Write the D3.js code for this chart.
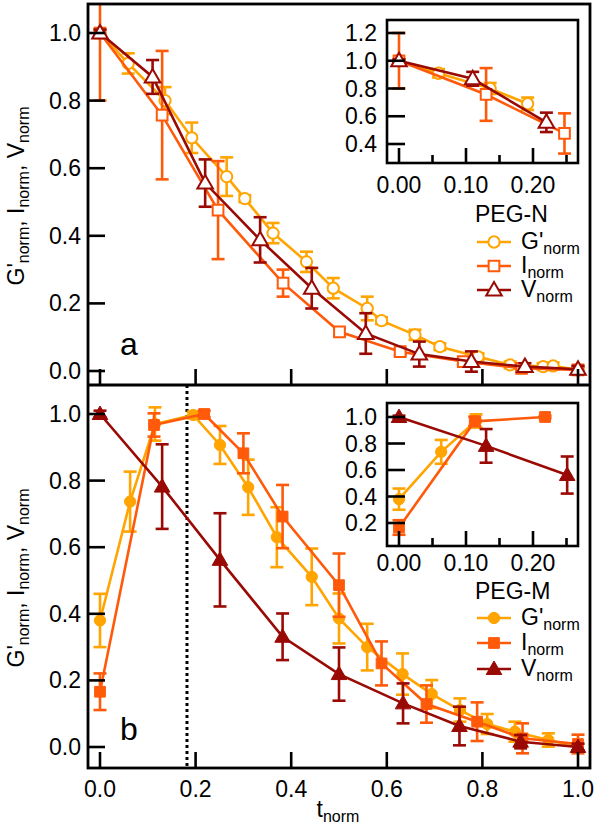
<!DOCTYPE html>
<html><head><meta charset="utf-8">
<script src="https://cdn.jsdelivr.net/npm/d3@7"></script>
<style>html,body{margin:0;padding:0;background:#fff}svg{display:block}text{font-family:"Liberation Sans",Arial,Helvetica,sans-serif;fill:#000}</style>
</head><body><svg id="c" width="596" height="828"></svg>
<script>
// ---------- DATA ----------
const xTicks = [0, 0.2, 0.4, 0.6, 0.8, 1.0];
const yTicks = [0, 0.2, 0.4, 0.6, 0.8, 1.0];
const insetXTicksMajor = [0, 0.10, 0.20];
const insetXTicksMinor = [0.05, 0.15, 0.25];
const insetTopYTicks = [0.4, 0.6, 0.8, 1.0, 1.2];
const insetBotYTicks = [0.2, 0.4, 0.6, 0.8, 1.0];
const seriesNames = ["G'", "I", "V"];
const colors = ["#FFA400", "#FF5A0A", "#9A0A05"];

// panel a (PEG-N)
const aG_t = [0, 0.059, 0.136, 0.192, 0.265, 0.303, 0.362, 0.432, 0.488, 0.559, 0.589, 0.659, 0.711, 0.791, 0.858, 0.927, 0.948, 1.0];
const aG_v = [1.0, 0.91, 0.80, 0.69, 0.575, 0.51, 0.408, 0.323, 0.245, 0.185, 0.149, 0.107, 0.072, 0.042, 0.018, 0.013, 0.015, 0.003];
const aG_e = [0.01, 0.03, 0.04, 0.045, 0.057, 0.01, 0.03, 0.03, 0.03, 0.035, 0.01, 0.015, 0.01, 0.01, 0.01, 0.01, 0.01, 0.01];
const aI_t = [0, 0.13, 0.247, 0.383, 0.501, 0.628, 0.76, 0.882, 1.0];
const aI_v = [1.0, 0.757, 0.476, 0.26, 0.116, 0.057, 0.028, 0.008, 0.003];
const aI_e = [0.2, 0.19, 0.145, 0.04, 0.01, 0.01, 0.01, 0.01, 0.01];
const aV_t = [0, 0.11, 0.22, 0.335, 0.443, 0.556, 0.668, 0.777, 0.889, 1.0];
const aV_v = [1.0, 0.87, 0.556, 0.388, 0.245, 0.111, 0.05, 0.028, 0.013, 0.005];
const aV_e = [0.01, 0.05, 0.07, 0.067, 0.06, 0.06, 0.037, 0.03, 0.01, 0.01];
const aInsetCount = [4, 3, 3];

// panel b (PEG-M)
const bG_t = [0, 0.063, 0.115, 0.195, 0.251, 0.31, 0.37, 0.443, 0.50, 0.559, 0.633, 0.694, 0.753, 0.81, 0.868, 0.938, 1.0];
const bG_v = [0.38, 0.737, 0.97, 0.997, 0.907, 0.78, 0.63, 0.511, 0.386, 0.30, 0.219, 0.159, 0.111, 0.069, 0.046, 0.021, 0.0];
const bG_e = [0.08, 0.09, 0.05, 0.01, 0.057, 0.083, 0.09, 0.085, 0.075, 0.07, 0.062, 0.042, 0.035, 0.03, 0.03, 0.02, 0.01];
const bI_t = [0, 0.113, 0.218, 0.30, 0.382, 0.50, 0.589, 0.683, 0.789, 0.884, 1.0];
const bI_v = [0.166, 0.967, 1.0, 0.882, 0.692, 0.486, 0.251, 0.129, 0.076, 0.026, 0.009];
const bI_e = [0.055, 0.035, 0.01, 0.06, 0.095, 0.095, 0.066, 0.056, 0.058, 0.045, 0.028];
const bV_t = [0, 0.13, 0.251, 0.382, 0.50, 0.634, 0.752, 0.88, 1.0];
const bV_v = [1.0, 0.782, 0.562, 0.331, 0.219, 0.131, 0.063, 0.016, 0.0];
const bV_e = [0.01, 0.127, 0.14, 0.07, 0.08, 0.06, 0.058, 0.02, 0.01];
const bInsetCount = [3, 3, 3];
const dividerT = 0.182;

// ---------- DRAW ----------
const svg = d3.select("#c");
const FONT = 23, SUB = 16, SUBDY = 5;
const x = d3.scaleLinear([0, 1], [100, 578]);
const xIn = d3.scaleLinear([0, 0.2], [399, 533]);
const frameL = 88, frameR = 590, top0 = 4, mid = 385, bot = 768;

const toPts = (t, v, e) => t.map((d, i) => ({t: d, v: v[i], e: e[i]}));
const panelA = [toPts(aG_t, aG_v, aG_e), toPts(aI_t, aI_v, aI_e), toPts(aV_t, aV_v, aV_e)];
const panelB = [toPts(bG_t, bG_v, bG_e), toPts(bI_t, bI_v, bI_e), toPts(bV_t, bV_v, bV_e)];
const symTypes = [d3.symbolCircle, d3.symbolSquare, d3.symbolTriangle];
const symSizes = [100, 115, 105];

let clipId = 0;
function clip(x0, y0, w, h) {
  const id = "cl" + (clipId++);
  svg.append("clipPath").attr("id", id).append("rect").attr("x", x0).attr("y", y0).attr("width", w).attr("height", h);
  return "url(#" + id + ")";
}

function drawSeries(g, data, xs, ys, filled) {
  data.forEach((pts, k) => {
    const c = colors[k];
    const sg = g.append("g");
    sg.append("path").datum(pts).attr("fill", "none").attr("stroke", c).attr("stroke-width", 2.6)
      .attr("d", d3.line().x(d => xs(d.t)).y(d => ys(d.v)));
    const eb = sg.selectAll(".eb").data(pts).enter().append("g");
    eb.append("line").attr("x1", d => xs(d.t)).attr("x2", d => xs(d.t))
      .attr("y1", d => ys(d.v + d.e)).attr("y2", d => ys(d.v - d.e)).attr("stroke", c).attr("stroke-width", 2.6);
    [1, -1].forEach(s => eb.append("line").attr("x1", d => xs(d.t) - 6.5).attr("x2", d => xs(d.t) + 6.5)
      .attr("y1", d => ys(d.v + s * d.e)).attr("y2", d => ys(d.v + s * d.e)).attr("stroke", c).attr("stroke-width", 2.6));
    sg.selectAll(".mk").data(pts).enter().append("path")
      .attr("transform", d => `translate(${xs(d.t)},${ys(d.v) + (k === 2 ? 1 : 0)})`)
      .attr("d", d3.symbol(symTypes[k], symSizes[k]))
      .attr("fill", filled ? c : "#fff").attr("stroke", c).attr("stroke-width", filled ? 1 : 2);
  });
}

function subText(sel, parts) {
  let prevSub = false;
  parts.forEach(([s, sub]) => {
    const ts = sel.append("tspan").text(s).attr("font-size", sub ? SUB : FONT);
    if (sub && !prevSub) ts.attr("dy", SUBDY);
    if (!sub && prevSub) ts.attr("dy", -SUBDY);
    prevSub = sub;
  });
}

function mainPanel(yTopPx, yBotPx, y, data, filled, label, labelY, titleCenter) {
  const g = svg.append("g");
  const inner = g.append("g").attr("clip-path", clip(frameL, yTopPx, frameR - frameL, yBotPx - yTopPx));
  drawSeries(inner, data, x, y, filled);
  yTicks.forEach(v => {
    g.append("line").attr("x1", frameL).attr("x2", frameL + 17).attr("y1", y(v)).attr("y2", y(v)).attr("stroke", "#000").attr("stroke-width", 2.6);
    g.append("text").attr("x", 81).attr("y", y(v) + 8).attr("text-anchor", "end").attr("font-size", FONT).text(v.toFixed(1));
  });
  xTicks.forEach(t => {
    g.append("line").attr("x1", x(t)).attr("x2", x(t)).attr("y1", yBotPx).attr("y2", yBotPx - 16).attr("stroke", "#000").attr("stroke-width", 2.6);
  });
  g.append("text").attr("x", 120).attr("y", labelY).attr("font-size", 32).text(label);
  const tt = g.append("text").attr("transform", `translate(24,${titleCenter}) rotate(-90)`).attr("text-anchor", "middle");
  subText(tt, [["G'", 0], ["norm", 1], [", I", 0], ["norm", 1], [", V", 0], ["norm", 1]]);
  return g;
}

function inset(y0, y1, yScale, yTicksArr, data, counts, filled, labelBase) {
  const g = svg.append("g");
  const sub = data.map((pts, k) => pts.slice(0, counts[k]));
  const inner = g.append("g").attr("clip-path", clip(387, y0, 191, y1 - y0));
  drawSeries(inner, sub, xIn, yScale, filled);
  g.append("rect").attr("x", 387).attr("y", y0).attr("width", 191).attr("height", y1 - y0)
    .attr("fill", "none").attr("stroke", "#000").attr("stroke-width", 2.6);
  yTicksArr.forEach(v => {
    g.append("line").attr("x1", 387).attr("x2", 405).attr("y1", yScale(v)).attr("y2", yScale(v)).attr("stroke", "#000").attr("stroke-width", 2.6);
    g.append("text").attr("x", 377).attr("y", yScale(v) + 8).attr("text-anchor", "end").attr("font-size", FONT).text(v.toFixed(1));
  });
  insetXTicksMajor.forEach(t => {
    g.append("line").attr("x1", xIn(t)).attr("x2", xIn(t)).attr("y1", y1).attr("y2", y1 - 15).attr("stroke", "#000").attr("stroke-width", 2.6);
    g.append("text").attr("x", xIn(t)).attr("y", labelBase).attr("text-anchor", "middle").attr("font-size", FONT).text(t.toFixed(2));
  });
  insetXTicksMinor.forEach(t => {
    g.append("line").attr("x1", xIn(t)).attr("x2", xIn(t)).attr("y1", y1).attr("y2", y1 - 8).attr("stroke", "#000").attr("stroke-width", 2.6);
  });
}

function legend(title, titleY, rowsY, filled) {
  const g = svg.append("g");
  g.append("text").attr("x", 475).attr("y", titleY).attr("font-size", FONT).text(title);
  const labels = [["G'", "norm"], ["I", "norm"], ["V", "norm"]];
  rowsY.forEach((ry, k) => {
    g.append("line").attr("x1", 477).attr("x2", 511).attr("y1", ry).attr("y2", ry).attr("stroke", colors[k]).attr("stroke-width", 2.6);
    g.append("path").attr("transform", `translate(494,${ry + (k === 2 ? 1 : 0)})`).attr("d", d3.symbol(symTypes[k], symSizes[k]))
      .attr("fill", filled ? colors[k] : "#fff").attr("stroke", colors[k]).attr("stroke-width", filled ? 1 : 2);
    const t = g.append("text").attr("x", 521).attr("y", ry + 7);
    subText(t, [[labels[k][0], 0], [labels[k][1], 1]]);
  });
}

// panel a
const yA = d3.scaleLinear([0, 1], [371, 33]);
mainPanel(top0, mid, yA, panelA, false, "a", 355, 196);
const yAin = d3.scaleLinear([0.4, 1.2], [144, 33]);
inset(20, 163, yAin, insetTopYTicks, panelA, aInsetCount, false, 193);
legend("PEG-N", 222, [242, 266, 290], false);

// panel b
const yB = d3.scaleLinear([0, 1], [747, 414]);
svg.append("line").attr("x1", x(dividerT)).attr("x2", x(dividerT)).attr("y1", mid).attr("y2", bot)
  .attr("stroke", "#000").attr("stroke-width", 3).attr("stroke-dasharray", "3,3");
mainPanel(mid, bot, yB, panelB, true, "b", 740, 578);
const yBin = d3.scaleLinear([0.2, 1.0], [523, 417]);
inset(403, 546, yBin, insetBotYTicks, panelB, bInsetCount, true, 571);
legend("PEG-M", 599, [618, 643, 669], true);

// frames
svg.append("rect").attr("x", frameL).attr("y", top0).attr("width", frameR - frameL).attr("height", bot - top0)
  .attr("fill", "none").attr("stroke", "#000").attr("stroke-width", 2.8);
svg.append("line").attr("x1", frameL).attr("x2", frameR).attr("y1", mid).attr("y2", mid).attr("stroke", "#000").attr("stroke-width", 2.8);

// x labels
xTicks.forEach(t => svg.append("text").attr("x", x(t)).attr("y", 797).attr("text-anchor", "middle").attr("font-size", FONT).text(t.toFixed(1)));
const xt = svg.append("text").attr("x", 338).attr("y", 817).attr("text-anchor", "middle");
subText(xt, [["t", 0], ["norm", 1]]);
</script></body></html>
